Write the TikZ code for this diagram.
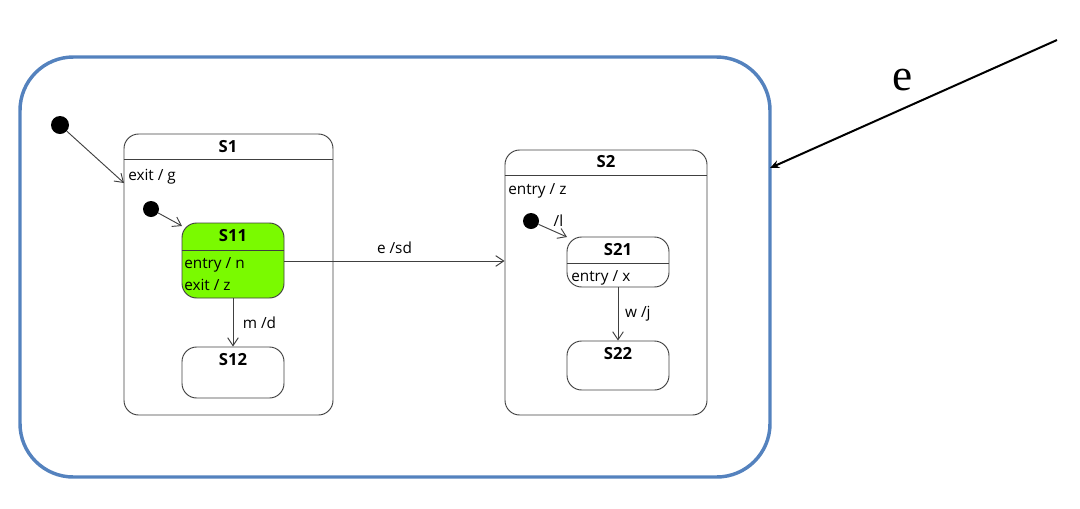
\documentclass[tikz,border=0pt]{standalone}
\usepackage{fontspec}
\setmainfont{Liberation Serif}
\newfontfamily\uifont{Open Sans}
\usetikzlibrary{arrows.meta,fit}
\definecolor{outerblue}{RGB}{84,130,190}
\definecolor{stgreen}{RGB}{122,250,0}
\definecolor{stline}{RGB}{64,64,64}
\begin{document}
\begin{tikzpicture}[x=0.75pt,y=-0.75pt,
  statebox/.style={draw=stline,line width=0.7pt,rounded corners=11pt,inner sep=0pt},
  title/.style={font=\uifont\bfseries\fontsize{12.5}{14}\selectfont,inner sep=0pt},
  lbl/.style={font=\uifont\fontsize{11.5}{13}\selectfont,inner sep=0pt},
  initdot/.style={circle,fill=black,inner sep=0pt,minimum size=13.5pt},
  smalldot/.style={circle,fill=black,inner sep=0pt,minimum size=12pt},
  trans/.style={draw=stline,line width=0.7pt,-{Straight Barb[length=6pt,width=8pt]}}
]
\useasboundingbox (0,0) rectangle (1080,508);
% outer composite
\node[draw=outerblue,line width=2.6pt,rounded corners=40pt,inner sep=0pt,fit={(20,57)(770,477)}] (outer) {};
% external event arrow
\coordinate (src) at (1057,40);
\coordinate (tgt) at (770,168);
\draw[line width=1.5pt,-{Stealth[length=7pt,width=6pt]}] (src) -- (tgt);
\node[font=\fontsize{34}{36}\selectfont,inner sep=0pt] (elbl) at (903,80) {e};

% S1
\node[statebox,fit={(124,134)(333,415)}] (S1) {};
\draw[stline,line width=0.7pt] (S1.west |- 0,159) -- (S1.east |- 0,159);
\node[title] (S1t) at (228,147) {S1};
\node[lbl,anchor=west] (S1a) at (128,177) {exit / g};
\node[initdot] (i0) at (60,125) {};
\coordinate (S1in) at (124,183);
\draw[trans] (i0) -- (S1in);

% S11
\node[statebox,fill=stgreen,fit={(182,223)(284,298)}] (S11) {};
\draw[stline,line width=0.7pt] (S11.west |- 0,250) -- (S11.east |- 0,250);
\node[title] (S11t) at (233,236) {S11};
\node[lbl,anchor=west] (S11a) at (184,265) {entry / n};
\node[lbl,anchor=west] (S11b) at (184,285) {exit / z};
\node[smalldot] (i1) at (151,209) {};
\coordinate (S11in) at (182,226);
\draw[trans] (i1) -- (S11in);

% S12
\node[statebox,fit={(182,347)(284,398)}] (S12) {};
\node[title] (S12t) at (233,360) {S12};
\draw[trans] (S11.south) -- (S12.north) node[lbl,midway,right=7pt] {m /d};

% S2
\node[statebox,fit={(505,150)(707,415)}] (S2) {};
\draw[stline,line width=0.7pt] (S2.west |- 0,175) -- (S2.east |- 0,175);
\node[title] (S2t) at (606,162) {S2};
\node[lbl,anchor=west] (S2a) at (508,191) {entry / z};

% S11 -> S2
\draw[trans] (S11.east |- 0,261) -- (S2.west |- 0,261) node[lbl,midway,above=5pt] {e /sd};

% S21
\node[statebox,fit={(567,237)(669,287)}] (S21) {};
\draw[stline,line width=0.7pt] (S21.west |- 0,263) -- (S21.east |- 0,263);
\node[title] (S21t) at (618,250) {S21};
\node[lbl,anchor=west] (S21a) at (571,278) {entry / x};
\node[smalldot] (i2) at (531,221) {};
\coordinate (S21in) at (567,237);
\draw[trans] (i2) -- (S21in) node[lbl,pos=0.7,above=5pt] {/l};

% S22
\node[statebox,fit={(567,341)(669,390)}] (S22) {};
\node[title] (S22t) at (618,354) {S22};
\draw[trans] (S21.south) -- (S22.north) node[lbl,midway,right=5pt] {w /j};
\end{tikzpicture}
\end{document}
